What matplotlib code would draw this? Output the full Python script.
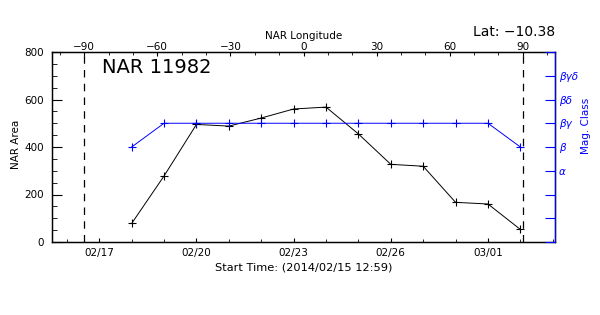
import pandas as pd
import matplotlib
matplotlib.use('Agg')
import matplotlib.pyplot as plt
import matplotlib.dates as mdates
from matplotlib.ticker import MultipleLocator, FixedLocator

# Daily observations of the region
obs_times = pd.date_range('2014-02-18 00:00', '2014-03-02 00:00', freq='D')
nar_area = [78, 278, 495, 488, 522, 560, 568, 455, 327, 319, 167, 160, 53]
mag_class = [4, 5, 5, 5, 5, 5, 5, 5, 5, 5, 5, 5, 4]

mag_ticks = [0, 1, 2, 3, 4, 5, 6, 7, 8]
mag_labels = ['', '', '', 'α', 'β', 'βγ', 'βδ', 'βγδ', '']

date_ticks = pd.to_datetime(['2014-02-17', '2014-02-20', '2014-02-23',
                             '2014-02-26', '2014-03-01'])
t_start = pd.Timestamp('2014-02-15 12:59')
t_end = pd.Timestamp('2014-03-03 01:40')

lon_limb = [-90, 90]
region = 'NAR 11982'
lat_text = 'Lat: \u221210.38'

blue = '#0000ff'
plt.rcParams['font.family'] = ['DejaVu Sans']
plt.rcParams['axes.unicode_minus'] = True

fig = plt.figure(figsize=(6, 3.15), dpi=100)
ax = fig.add_axes([52 / 600, 73 / 315, 503 / 600, 190 / 315])

# NAR area (left axis)
ax.plot(obs_times, nar_area, color='black', lw=0.7, marker='+',
        ms=6, mew=0.8)
ax.set_xlim(t_start, t_end)
ax.set_ylim(0, 800)
ax.yaxis.set_major_locator(MultipleLocator(200))
ax.yaxis.set_minor_locator(MultipleLocator(50))
ax.xaxis.set_major_locator(FixedLocator(mdates.date2num(date_ticks)))
ax.xaxis.set_minor_locator(mdates.DayLocator())
ax.xaxis.set_major_formatter(mdates.DateFormatter('%m/%d'))
ax.tick_params(axis='y', which='major', direction='in', length=7.2,
               labelsize=7.5, pad=6, right=False)
ax.tick_params(axis='y', which='minor', direction='in', length=3.6, right=False)
ax.tick_params(axis='x', which='major', direction='in', length=3,
               labelsize=7.5, pad=4.5, top=False)
ax.tick_params(axis='x', which='minor', direction='in', length=2, top=False)
for s in ax.spines.values():
    s.set_linewidth(1)

# longitude (top axis)
axt = ax.twiny()
axt.set_xlim(-103.2, 103.2)
axt.xaxis.set_major_locator(MultipleLocator(30))
axt.xaxis.set_minor_locator(MultipleLocator(10))
axt.tick_params(axis='x', which='major', direction='in', length=3,
                labelsize=7.5, pad=0)
axt.tick_params(axis='x', which='minor', direction='in', length=2)
for x in lon_limb:
    axt.axvline(x, color='black', lw=0.9, linestyle=(0, (6, 5)))

# magnetic class (right axis)
axr = ax.twinx()
axr.plot(obs_times, mag_class, color=blue, lw=0.7, marker='+',
         ms=6, mew=0.8)
axr.set_ylim(0, 8)
axr.set_yticks(mag_ticks)
axr.set_yticklabels(mag_labels, fontstyle='italic')
axr.tick_params(axis='y', direction='in', length=7.2, labelsize=7.5,
                pad=3, colors=blue)
axr.spines['right'].set_color(blue)
for k in ['left', 'top', 'bottom']:
    axr.spines[k].set_visible(False)
axr.set_xlim(t_start, t_end)

# labels
fig.text(303.5 / 600, 1 - 39 / 315, 'NAR Longitude', ha='center',
         va='baseline', fontsize=7.5)
fig.text(303.5 / 600, 1 - 271 / 315, 'Start Time: (2014/02/15 12:59)',
         ha='center', va='baseline', fontsize=8.2)
fig.text(16 / 600, 1 - 144 / 315, 'NAR Area', rotation=90, ha='center',
         va='center', fontsize=7.5)
fig.text(586 / 600, 1 - 126 / 315, 'Mag. Class', rotation=90, ha='center',
         va='center', fontsize=7.5, color=blue)
fig.text(102 / 600, 1 - 73 / 315, region, ha='left', va='baseline',
         fontsize=14)
fig.text(555 / 600, 1 - 36 / 315, lat_text, ha='right', va='baseline',
         fontsize=10)

fig.savefig('out.png', dpi=100)
